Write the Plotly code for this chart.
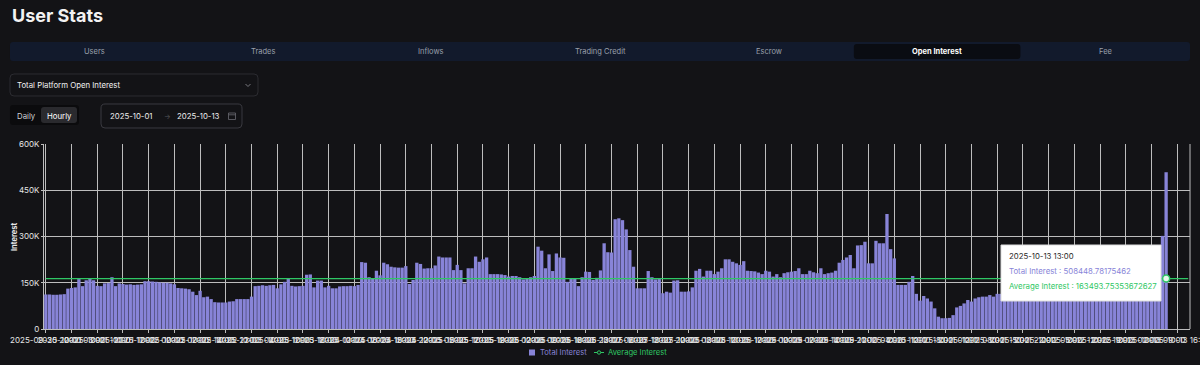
import plotly.graph_objects as go
import pandas as pd

# ---------------- data ----------------
# hourly categories (local time) shown on the x axis
categories = list(pd.date_range("2025-09-30 20:00", periods=312, freq="h").strftime("%Y-%m-%d %H:%M"))
tick_step = 7

# Total Interest per hour, in thousands
total_interest_k = [
    112, 112, 111, 111, 112, 113, 131, 133, 135, 162,
    139, 158, 164, 158, 140, 139, 148, 149, 168, 139,
    148, 146, 144, 145, 143, 144, 145, 155, 155, 154,
    153, 151, 150, 150, 148, 145, 133, 132, 131, 129,
    121, 110, 124, 103, 105, 97, 87, 86, 86, 86,
    89, 90, 97, 97, 97, 97, 105, 139, 140, 142,
    140, 142, 143, 132, 145, 153, 163, 140, 138, 139,
    140, 176, 177, 135, 157, 157, 135, 140,
    132, 132, 138, 139, 139, 140, 139, 143, 217, 215,
    168, 163, 189, 174, 215, 210, 202, 200, 199, 199,
    204, 146, 159, 215, 211, 196, 197, 197, 206, 235,
    232, 232, 232, 191, 208, 191, 148, 197, 197, 235,
    218, 226, 232, 178, 178, 178, 177, 175, 170, 172,
    172, 168, 161, 163, 168, 172, 267, 254, 197, 242,
    188, 245, 232, 231, 153, 163, 163, 139, 168, 186,
    185, 159, 166, 190, 278, 249, 248,
    356, 359, 353, 323, 256, 202, 132, 132, 132, 188,
    168, 161, 162, 116, 121, 118, 157, 158, 121, 121,
    122, 135, 189, 195, 170, 189, 189, 178, 186, 197,
    226, 226, 218, 213, 208, 220, 189, 188, 187, 183,
    178, 189, 186, 170, 178, 168, 181, 184, 186, 188,
    197, 178, 178, 189, 184, 181, 197, 178, 181, 183,
    189, 215, 224, 232, 240, 197, 271, 272, 283, 213,
    213, 286, 278, 278, 373, 259, 229, 143,
    143, 143, 153, 172, 114, 92, 107, 99, 89, 67,
    40, 35, 35, 36, 45, 70, 75, 83, 94, 89,
    99, 103, 105, 105, 110, 105, 114, 114,
    118, 120, 122, 121, 125, 127, 126, 129, 131, 128,
    132, 130, 134, 133, 131, 135, 137, 136, 134, 138,
    140, 139, 137, 141, 138, 140, 143, 141, 139, 144,
    142, 145, 143, 146, 144, 142, 147, 145, 148, 146,
    150, 149, 152, 302, 508.44878175462,
]
average_interest = 163493.75353672627
hover_index = 305
hover_label = "2025-10-13 13:00"
hover_total = "508448.78175462"
hover_avg = "163493.75353672627"

y_tickvals = [0, 150000, 300000, 450000, 600000]
y_ticktext = ["0", "150K", "300K", "450K", "600K"]

tabs = ["Users", "Trades", "Inflows", "Trading Credit", "Escrow", "Open Interest", "Fee"]
active_tab = "Open Interest"

# ---------------- style ----------------
BG = "#131316"
PURPLE = "#8884d8"
GREEN = "#2fc765"
GRID = "#bdbdbd"
FONT = "Inter, Lato, sans-serif"

W, H = 1200, 365
L, R, T, B = 44, 10, 144, 36
PW, PH = W - L - R, H - T - B


def px(x):
    return (x - L) / PW


def py(y):
    return (H - B - y) / PH


def rrect(x0, y0, x1, y1, r):
    pts = [
        ("M", [(x0 + r, y0)]), ("L", [(x1 - r, y0)]), ("Q", [(x1, y0), (x1, y0 + r)]),
        ("L", [(x1, y1 - r)]), ("Q", [(x1, y1), (x1 - r, y1)]), ("L", [(x0 + r, y1)]),
        ("Q", [(x0, y1), (x0, y1 - r)]), ("L", [(x0, y0 + r)]), ("Q", [(x0, y0), (x0 + r, y0)]),
    ]
    s = ""
    for cmd, ps in pts:
        s += cmd + " " + " ".join(f"{px(a):.5f},{py(b):.5f}" for a, b in ps) + " "
    return s + "Z"


bar_x = categories[:len(total_interest_k)]
bar_y = [v * 1000 for v in total_interest_k]

fig = go.Figure()
fig.add_trace(go.Bar(x=bar_x, y=bar_y, marker=dict(color=PURPLE, line=dict(width=0)),
                     name="Total Interest", showlegend=False))
fig.add_trace(go.Scatter(x=categories, y=[average_interest] * len(categories), mode="lines",
                         line=dict(color=GREEN, width=1.3), name="Average Interest", showlegend=False))
fig.add_trace(go.Scatter(x=[categories[hover_index]], y=[average_interest], mode="markers",
                         marker=dict(size=7, color="#e8f8ee", line=dict(color=GREEN, width=1.5)),
                         showlegend=False, hoverinfo="skip"))

shapes = []
annotations = []

# title
annotations.append(dict(x=px(10), y=py(15), xref="paper", yref="paper", xanchor="left", yanchor="middle",
                        text="<b>User Stats</b>", showarrow=False,
                        font=dict(family=FONT, size=18, color="#f2f2f2")))

# tab bar
shapes.append(dict(type="path", path=rrect(10, 42, 1190, 61, 3), xref="paper", yref="paper",
                   fillcolor="#121a2c", line=dict(width=0), layer="above"))
tab_w = (1190 - 10) / len(tabs)
for i, t in enumerate(tabs):
    cx = 10 + tab_w * (i + 0.5)
    if t == active_tab:
        shapes.append(dict(type="path", path=rrect(10 + tab_w * i + 1, 44, 10 + tab_w * (i + 1) - 1, 59, 3),
                           xref="paper", yref="paper", fillcolor="#0a0c12", line=dict(width=0), layer="above"))
        col = "#ffffff"
        txt = "<b>" + t + "</b>"
    else:
        col = "#9aa0ab"
        txt = t
    annotations.append(dict(x=px(cx), y=py(51.5), xref="paper", yref="paper", xanchor="center", yanchor="middle",
                            text=txt, showarrow=False, font=dict(family=FONT, size=7.5, color=col)))

# dropdown
shapes.append(dict(type="path", path=rrect(10, 74, 258, 96, 4), xref="paper", yref="paper",
                   fillcolor=BG, line=dict(color="#2c2c31", width=1), layer="above"))
annotations.append(dict(x=px(15), y=py(85), xref="paper", yref="paper", xanchor="left", yanchor="middle",
                        text="Total Platform Open Interest", showarrow=False,
                        font=dict(family=FONT, size=7.8, color="#f0f0f0")))
shapes.append(dict(type="path", path=f"M {px(245.5)},{py(84)} L {px(248)},{py(86.5)} L {px(250.5)},{py(84)}",
                   xref="paper", yref="paper", line=dict(color="#77777d", width=1), layer="above"))

# daily / hourly toggle
shapes.append(dict(type="path", path=rrect(10, 105, 79, 125, 3), xref="paper", yref="paper",
                   fillcolor="#0b0b0d", line=dict(width=0), layer="above"))
shapes.append(dict(type="path", path=rrect(41, 107, 77, 123, 3), xref="paper", yref="paper",
                   fillcolor="#2a2a2e", line=dict(width=0), layer="above"))
annotations.append(dict(x=px(26), y=py(115.5), xref="paper", yref="paper", xanchor="center", yanchor="middle",
                        text="Daily", showarrow=False, font=dict(family=FONT, size=7.8, color="#cfcfd3")))
annotations.append(dict(x=px(59), y=py(115.5), xref="paper", yref="paper", xanchor="center", yanchor="middle",
                        text="Hourly", showarrow=False, font=dict(family=FONT, size=7.8, color="#ffffff")))

# date range picker
shapes.append(dict(type="path", path=rrect(101, 104, 242, 128, 4), xref="paper", yref="paper",
                   fillcolor=BG, line=dict(color="#3a3a40", width=1), layer="above"))
annotations.append(dict(x=px(108), y=py(116), xref="paper", yref="paper", xanchor="left", yanchor="middle",
                        text="2025-10-01", showarrow=False, font=dict(family=FONT, size=7.8, color="#ececec")))
annotations.append(dict(x=px(167), y=py(117), xref="paper", yref="paper", xanchor="center", yanchor="middle",
                        text="→", showarrow=False, font=dict(family=FONT, size=7, color="#55555b")))
annotations.append(dict(x=px(175), y=py(116), xref="paper", yref="paper", xanchor="left", yanchor="middle",
                        text="2025-10-13", showarrow=False, font=dict(family=FONT, size=7.8, color="#ececec")))
shapes.append(dict(type="rect", x0=px(228.5), x1=px(235.5), y0=py(119.5), y1=py(113), xref="paper", yref="paper",
                   line=dict(color="#6b6b72", width=0.8), layer="above"))
shapes.append(dict(type="line", x0=px(228.5), x1=px(235.5), y0=py(114.8), y1=py(114.8), xref="paper", yref="paper",
                   line=dict(color="#6b6b72", width=0.8), layer="above"))

# y axis title
annotations.append(dict(x=px(14), y=py(237), xref="paper", yref="paper", xanchor="center", yanchor="middle",
                        text="<b>Interest</b>", textangle=-90, showarrow=False,
                        font=dict(family=FONT, size=7.5, color="#e8e8e8")))

# right border of grid
shapes.append(dict(type="line", x0=1, x1=1, y0=0, y1=1, xref="paper", yref="paper",
                   line=dict(color=GRID, width=1), layer="below"))

# tooltip
shapes.append(dict(type="rect", x0=px(1001), x1=px(1161), y0=py(245), y1=py(301), xref="paper", yref="paper",
                   fillcolor="#ffffff", line=dict(color="#dddddd", width=1), layer="above"))
annotations.append(dict(x=px(1007), y=py(256), xref="paper", yref="paper", xanchor="left", yanchor="middle",
                        text=hover_label, showarrow=False, font=dict(family=FONT, size=7.8, color="#2a2a2a")))
annotations.append(dict(x=px(1007), y=py(270.5), xref="paper", yref="paper", xanchor="left", yanchor="middle",
                        text="Total Interest : " + hover_total, showarrow=False,
                        font=dict(family=FONT, size=7.8, color=PURPLE)))
annotations.append(dict(x=px(1007), y=py(286), xref="paper", yref="paper", xanchor="left", yanchor="middle",
                        text="Average Interest : " + hover_avg, showarrow=False,
                        font=dict(family=FONT, size=7.8, color=GREEN)))

# legend (drawn manually)
shapes.append(dict(type="rect", x0=px(529), x1=px(535), y0=py(349.5), y1=py(355.5), xref="paper", yref="paper",
                   fillcolor=PURPLE, line=dict(width=0), layer="above"))
annotations.append(dict(x=px(537.5), y=py(352.5), xref="paper", yref="paper", xanchor="left", yanchor="middle",
                        text="Total Interest", showarrow=False, font=dict(family=FONT, size=7.6, color=PURPLE)))
shapes.append(dict(type="line", x0=px(594), x1=px(604), y0=py(352.5), y1=py(352.5), xref="paper", yref="paper",
                   line=dict(color=GREEN, width=1), layer="above"))
shapes.append(dict(type="circle", x0=px(597.3), x1=px(600.7), y0=py(350.8), y1=py(354.2), xref="paper",
                   yref="paper", fillcolor=BG, line=dict(color=GREEN, width=1), layer="above"))
annotations.append(dict(x=px(606), y=py(352.5), xref="paper", yref="paper", xanchor="left", yanchor="middle",
                        text="Average Interest", showarrow=False, font=dict(family=FONT, size=7.6, color=GREEN)))

fig.update_layout(
    width=W, height=H, margin=dict(l=L, r=R, t=T, b=B, pad=0),
    paper_bgcolor=BG, plot_bgcolor=BG,
    bargap=0.1, showlegend=False,
    font=dict(family=FONT, color="#e6e6e6"),
    shapes=shapes, annotations=annotations,
)
fig.update_xaxes(
    type="category", categoryorder="array", categoryarray=categories,
    range=[-0.5, len(categories) - 0.5],
    tickmode="array", tickvals=categories[::tick_step], ticktext=categories[::tick_step],
    tickangle=0, tickfont=dict(family=FONT, size=8, color="#e6e6e6"),
    showgrid=True, gridcolor=GRID, gridwidth=1,
    showline=True, linecolor=GRID, linewidth=1,
    ticks="outside", ticklen=3, tickcolor=GRID, automargin=False,
)
fig.update_yaxes(
    range=[0, 600000], tickmode="array", tickvals=y_tickvals, ticktext=y_ticktext,
    tickfont=dict(family=FONT, size=8, color="#e6e6e6"),
    showgrid=True, gridcolor=GRID, gridwidth=1, zeroline=False,
    showline=True, linecolor=GRID, linewidth=1,
    ticks="outside", ticklen=2, tickcolor=GRID, automargin=False,
)

fig.write_html("out.html", config={"displayModeBar": False},
               post_script="document.body.style.margin='0';document.body.style.background='%s';" % BG)
